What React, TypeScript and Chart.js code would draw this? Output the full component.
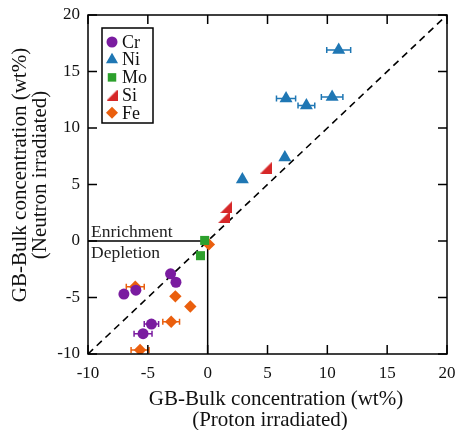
import React, { useEffect, useRef } from "react";
import { Chart, registerables } from "chart.js";

Chart.register(...registerables);

const FONT = "'Liberation Serif', 'Times New Roman', serif";

const crX = [-3.1, -2.65, -7.0, -6.0, -4.7, -5.4];
const crY = [-2.9, -3.65, -4.7, -4.35, -7.35, -8.2];
const crXErr = [0, 0, 0, 0, 0.6, 0.75];

const niX = [10.95, 6.55, 8.25, 10.4, 6.45, 2.9];
const niY = [16.9, 12.6, 12.0, 12.75, 7.4, 5.45];
const niXErr = [1.0, 0.8, 0.7, 0.9, 0, 0];

const moX = [-0.25, -0.6];
const moY = [0.05, -1.3];
const moXErr = [0, 0];

const siX = [4.9, 1.55, 1.35];
const siY = [6.5, 3.0, 2.1];
const siXErr = [0, 0, 0];

const feX = [0.1, -6.05, -2.7, -1.45, -3.05, -5.65];
const feY = [-0.3, -4.05, -4.9, -5.8, -7.15, -9.65];
const feXErr = [0, 0.75, 0, 0, 0.7, 0.75];

const diagX = [-10, 20];
const diagY = [-10, 20];

const tickValues = [-10, -5, 0, 5, 10, 15, 20];

const seriesNames = ["Cr", "Ni", "Mo", "Si", "Fe"];
const seriesColors = ["#7A1CA0", "#1F77B4", "#2CA02C", "#D62728", "#EA5F0E"];

function makeSiMarker(color: string, size: number) {
  const c = document.createElement("canvas");
  c.width = size;
  c.height = size;
  const ctx = c.getContext("2d")!;
  ctx.fillStyle = color;
  ctx.beginPath();
  ctx.moveTo(0, size);
  ctx.lineTo(size, size);
  ctx.lineTo(size, 0);
  ctx.closePath();
  ctx.fill();
  return c;
}

const pts = (xs: number[], ys: number[]) => xs.map((x, i) => ({ x, y: ys[i] }));

function drawMarker(ctx: CanvasRenderingContext2D, s: any, r: number, x: number, y: number) {
  if (typeof s !== "string") {
    const w = r * 2;
    ctx.drawImage(s, x - w / 2, y - w / 2, w, w);
    return;
  }
  ctx.beginPath();
  if (s === "circle") {
    ctx.arc(x, y, r, 0, Math.PI * 2);
  } else if (s === "triangle") {
    for (let k = 0; k < 3; k++) {
      const ang = (k * 2 * Math.PI) / 3;
      const px = x + Math.sin(ang) * r;
      const py = y - Math.cos(ang) * r;
      if (k === 0) ctx.moveTo(px, py);
      else ctx.lineTo(px, py);
    }
    ctx.closePath();
  } else if (s === "rect") {
    const h = r * Math.SQRT1_2;
    ctx.rect(x - h, y - h, 2 * h, 2 * h);
  } else if (s === "rectRot") {
    ctx.moveTo(x, y - r);
    ctx.lineTo(x + r, y);
    ctx.lineTo(x, y + r);
    ctx.lineTo(x - r, y);
    ctx.closePath();
  }
  ctx.fill();
}

export default function App() {
  const ref = useRef<HTMLCanvasElement | null>(null);

  useEffect(() => {
    if (!ref.current) return;
    const siMarker = makeSiMarker(seriesColors[3], 12);
    const siLegend = makeSiMarker(seriesColors[3], 11);

    const styles: any[] = [
      { pointStyle: "circle", radius: 5.5 },
      { pointStyle: "triangle", radius: 7.5 },
      { pointStyle: "rect", radius: 6.4 },
      { pointStyle: siMarker, radius: 6 },
      { pointStyle: "rectRot", radius: 6.2 },
    ];
    const xsAll = [crX, niX, moX, siX, feX];
    const ysAll = [crY, niY, moY, siY, feY];
    const errAll = [crXErr, niXErr, moXErr, siXErr, feXErr];

    const datasets: any[] = seriesNames.map((name, i) => ({
      label: name,
      data: pts(xsAll[i], ysAll[i]),
      pointStyle: styles[i].pointStyle,
      pointRadius: styles[i].radius,
      backgroundColor: seriesColors[i],
      borderColor: seriesColors[i],
      borderWidth: 0,
      showLine: false,
      order: 1,
      xErr: errAll[i],
    }));
    datasets.push({
      label: "y=x",
      data: pts(diagX, diagY),
      showLine: true,
      pointRadius: 0,
      borderColor: "#000",
      borderWidth: 1.6,
      borderDash: [7, 5],
      order: 10,
    });

    const plugin = {
      id: "custom",
      beforeDatasetsDraw(chart: any) {
        const ctx = chart.ctx;
        const xs = chart.scales.x;
        const ys = chart.scales.y;
        ctx.save();
        ctx.strokeStyle = "#000";
        ctx.lineWidth = 1.5;
        ctx.beginPath();
        ctx.moveTo(xs.getPixelForValue(-10), ys.getPixelForValue(0));
        ctx.lineTo(xs.getPixelForValue(0), ys.getPixelForValue(0));
        ctx.lineTo(xs.getPixelForValue(0), ys.getPixelForValue(-10));
        ctx.stroke();
        ctx.fillStyle = "#222";
        ctx.font = `17.5px ${FONT}`;
        ctx.textAlign = "left";
        ctx.textBaseline = "alphabetic";
        ctx.fillText("Enrichment", xs.getPixelForValue(-10) + 3, ys.getPixelForValue(0) - 4);
        ctx.fillText("Depletion", xs.getPixelForValue(-10) + 3, ys.getPixelForValue(0) + 17);
        chart.data.datasets.forEach((ds: any) => {
          if (!ds.xErr) return;
          ctx.strokeStyle = ds.borderColor;
          ctx.lineWidth = 1.5;
          ds.data.forEach((p: any, i: number) => {
            const e = ds.xErr[i];
            if (!e) return;
            const x1 = xs.getPixelForValue(p.x - e);
            const x2 = xs.getPixelForValue(p.x + e);
            const y = ys.getPixelForValue(p.y);
            ctx.beginPath();
            ctx.moveTo(x1, y);
            ctx.lineTo(x2, y);
            ctx.moveTo(x1, y - 3);
            ctx.lineTo(x1, y + 3);
            ctx.moveTo(x2, y - 3);
            ctx.lineTo(x2, y + 3);
            ctx.stroke();
          });
        });
        ctx.restore();
      },
      afterDraw(chart: any) {
        const ctx = chart.ctx;
        const a = chart.chartArea;
        const xs = chart.scales.x;
        const ys = chart.scales.y;
        ctx.save();
        ctx.strokeStyle = "#000";
        ctx.lineWidth = 1.5;
        ctx.strokeRect(a.left, a.top, a.right - a.left, a.bottom - a.top);
        const tl = 9;
        ctx.beginPath();
        tickValues.forEach((v) => {
          const px = xs.getPixelForValue(v);
          ctx.moveTo(px, a.bottom);
          ctx.lineTo(px, a.bottom - tl);
          ctx.moveTo(px, a.top);
          ctx.lineTo(px, a.top + tl);
          const py = ys.getPixelForValue(v);
          ctx.moveTo(a.left, py);
          ctx.lineTo(a.left + tl, py);
          ctx.moveTo(a.right, py);
          ctx.lineTo(a.right - tl, py);
        });
        ctx.stroke();

        const bx = a.left + 14;
        const by = a.top + 13;
        const bw = 51;
        const bh = 95;
        ctx.fillStyle = "#fff";
        ctx.fillRect(bx, by, bw, bh);
        ctx.lineWidth = 1.5;
        ctx.strokeRect(bx, by, bw, bh);
        ctx.font = `18px ${FONT}`;
        ctx.textAlign = "left";
        ctx.textBaseline = "middle";
        const legendStyles: any[] = [
          { s: "circle", r: 5.5 },
          { s: "triangle", r: 7 },
          { s: "rect", r: 6 },
          { s: siLegend, r: 5.5 },
          { s: "rectRot", r: 6 },
        ];
        seriesNames.forEach((name, i) => {
          const cy = by + 14 + i * 17.7;
          const cx = bx + 10;
          ctx.fillStyle = seriesColors[i];
          drawMarker(ctx, legendStyles[i].s, legendStyles[i].r, cx, cy);
          ctx.fillStyle = "#111";
          ctx.fillText(name, bx + 20, cy + 1);
        });

        ctx.fillStyle = "#111";
        ctx.font = `21px ${FONT}`;
        ctx.textAlign = "center";
        ctx.textBaseline = "middle";
        ctx.fillText("GB-Bulk concentration (wt%)", 276, 399);
        ctx.fillText("(Proton irradiated)", 270, 420);
        ctx.save();
        ctx.translate(20, 175);
        ctx.rotate(-Math.PI / 2);
        ctx.fillText("GB-Bulk concentration (wt%)", 0, 0);
        ctx.restore();
        ctx.save();
        ctx.translate(40, 175);
        ctx.rotate(-Math.PI / 2);
        ctx.fillText("(Neutron irradiated)", 0, 0);
        ctx.restore();
        ctx.restore();
      },
    };

    const chart = new Chart(ref.current, {
      type: "scatter",
      data: { datasets },
      plugins: [plugin],
      options: {
        animation: false,
        responsive: false,
        maintainAspectRatio: false,
        layout: { padding: { top: 15, right: 14, left: 0, bottom: 0 } },
        plugins: {
          legend: { display: false },
          tooltip: { enabled: false },
        },
        scales: {
          x: {
            type: "linear",
            min: -10,
            max: 20,
            afterBuildTicks: (s: any) => {
              s.ticks = tickValues.map((v) => ({ value: v }));
            },
            afterFit: (s: any) => {
              s.height = 76;
              s.paddingLeft = 0;
              s.paddingRight = 0;
            },
            grid: { display: false, drawTicks: false },
            border: { display: false },
            ticks: {
              color: "#111",
              font: { family: FONT, size: 17 },
              padding: 9,
              maxRotation: 0,
              autoSkip: false,
            },
          },
          y: {
            type: "linear",
            min: -10,
            max: 20,
            afterBuildTicks: (s: any) => {
              s.ticks = tickValues.map((v) => ({ value: v }));
            },
            afterFit: (s: any) => {
              s.width = 88;
              s.paddingTop = 0;
              s.paddingBottom = 0;
            },
            grid: { display: false, drawTicks: false },
            border: { display: false },
            ticks: {
              color: "#111",
              font: { family: FONT, size: 17 },
              padding: 8,
              autoSkip: false,
            },
          },
        },
      } as any,
    });
    return () => chart.destroy();
  }, []);

  return (
    <div style={{ position: "absolute", left: 0, top: 0, width: 461, height: 430, background: "#fff" }}>
      <canvas ref={ref} width={461} height={430} style={{ width: 461, height: 430 }} />
    </div>
  );
}
